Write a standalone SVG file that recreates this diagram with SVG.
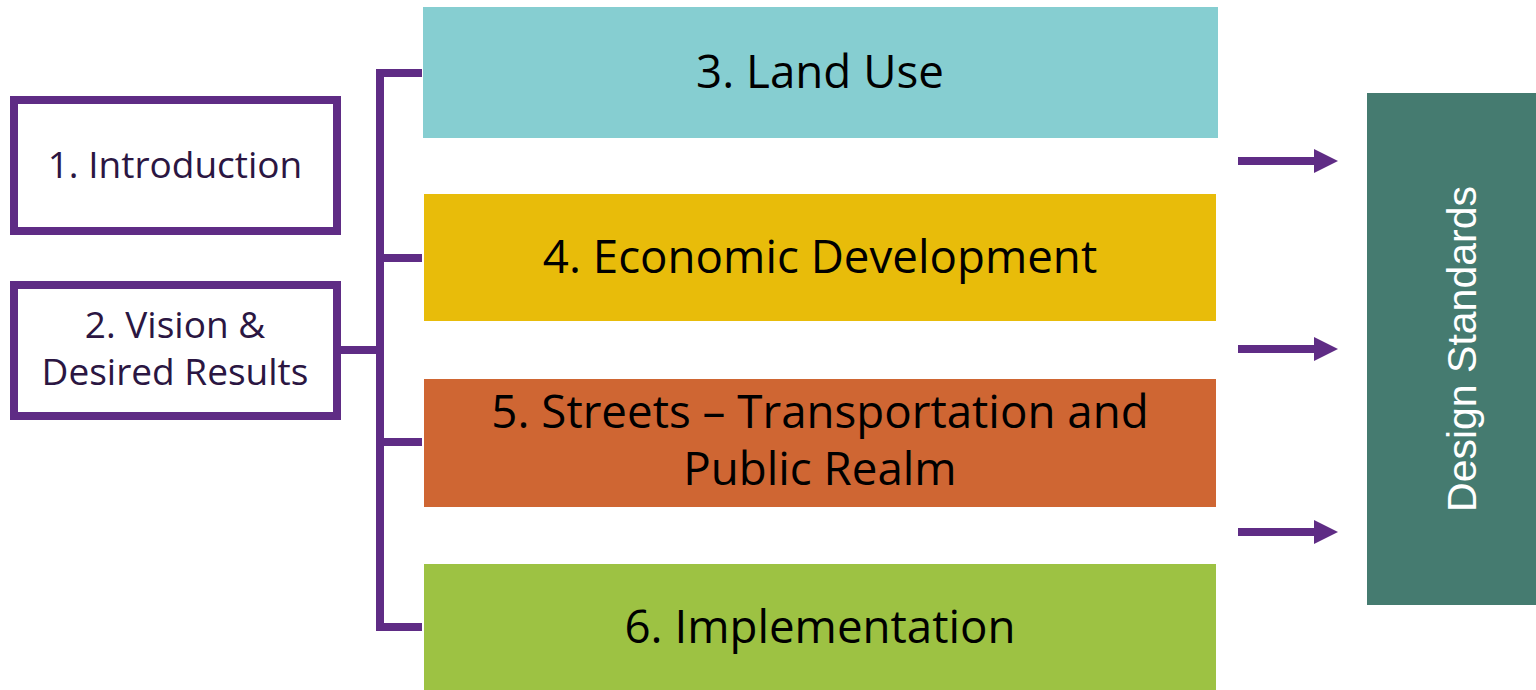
<svg xmlns="http://www.w3.org/2000/svg" width="1536" height="690" viewBox="0 0 1536 690">
<defs>
<style>
.lbox{fill:#ffffff;stroke:#5F2C85;stroke-width:8}
.ltxt{font-family:"Open Sans","Noto Sans",sans-serif;font-size:37px;fill:#2B1642;text-anchor:middle}
.mtxt{font-family:"Open Sans","Noto Sans",sans-serif;font-size:45.7px;fill:#000000;text-anchor:middle}
.conn{fill:none;stroke:#5F2C85;stroke-width:8}
.arr{fill:none;stroke:#5F2C85;stroke-width:8}
.dtxt{font-family:"Liberation Sans",Arial,sans-serif;font-size:41px;fill:#ffffff;text-anchor:middle}
</style>
</defs>
<rect width="1536" height="690" fill="#ffffff"/>
<g id="connectors">
<path class="conn" d="M422,73 H380 V627 H422"/>
<path class="conn" d="M380,258 H422"/>
<path class="conn" d="M380,442 H422"/>
<path class="conn" d="M341,350 H380"/>
<line class="arr" x1="1238" y1="161" x2="1320" y2="161"/>
<path d="M1314,149 L1338,161 L1314,173 Z" fill="#5F2C85"/>
<line class="arr" x1="1238" y1="349" x2="1320" y2="349"/>
<path d="M1314,337 L1338,349 L1314,361 Z" fill="#5F2C85"/>
<line class="arr" x1="1238" y1="532" x2="1320" y2="532"/>
<path d="M1314,520 L1338,532 L1314,544 Z" fill="#5F2C85"/>
</g>
<g id="n1">
<rect class="lbox" x="14" y="100" width="323" height="131"/>
<text class="ltxt" x="175" y="178">1. Introduction</text>
</g>
<g id="n2">
<rect class="lbox" x="14" y="285" width="323" height="131"/>
<text class="ltxt" x="175" y="338">2. Vision &amp;</text>
<text class="ltxt" x="175" y="385">Desired Results</text>
</g>
<g id="n3">
<rect x="423" y="7" width="795" height="131" fill="#86CED1"/>
<text class="mtxt" x="820" y="88">3. Land Use</text>
</g>
<g id="n4">
<rect x="424" y="194" width="792" height="127" fill="#E8BC0A"/>
<text class="mtxt" x="820" y="273">4. Economic Development</text>
</g>
<g id="n5">
<rect x="424" y="379" width="792" height="128" fill="#CF6633"/>
<text class="mtxt" x="820" y="428">5. Streets – Transportation and</text>
<text class="mtxt" x="820" y="485">Public Realm</text>
</g>
<g id="n6">
<rect x="424" y="564" width="792" height="126" fill="#9DC243"/>
<text class="mtxt" x="820" y="643">6. Implementation</text>
</g>
<g id="n7">
<rect x="1367" y="93" width="169" height="512" fill="#457B70"/>
<text class="dtxt" transform="translate(1476,349) rotate(-90)" x="0" y="0">Design Standards</text>
</g>
</svg>
